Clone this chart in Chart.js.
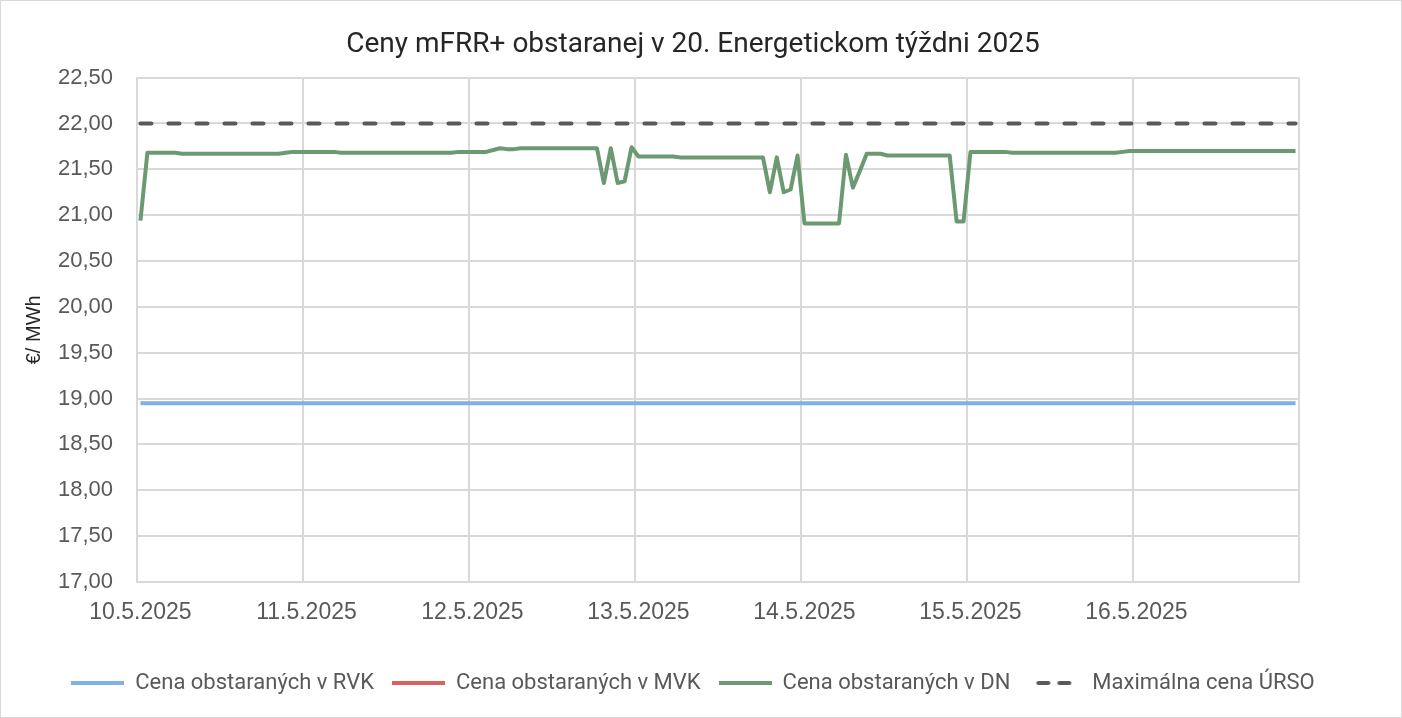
<!DOCTYPE html>
<html>
<head>
<meta charset="utf-8">
<script src="https://cdn.jsdelivr.net/npm/chart.js"></script>
<style>
  body { margin: 0; background: #fff; }
  .box { width: 1402px; height: 718px; box-sizing: border-box; border: 1px solid #d9d9d9; }
  canvas { display: block; }
</style>
</head>
<body>
<div class="box"><canvas id="chart" width="1400" height="716"></canvas></div>
<script>
// dni v tyzdni (popisy osi x), hodinove kategorie
const dni = ['10.5.2025', '11.5.2025', '12.5.2025', '13.5.2025', '14.5.2025', '15.5.2025', '16.5.2025'];
const hodiny = dni.flatMap(d => Array.from({ length: 24 }, (_, h) => d + ' ' + h + ':00'));

// ceny v DN po hodinach (odcitane z grafu)
const cenaDN = [
    // 10.5.
    20.94, 21.68, 21.68, 21.68, 21.68, 21.68, 21.67, 21.67, 21.67, 21.67, 21.67, 21.67,
    21.67, 21.67, 21.67, 21.67, 21.67, 21.67, 21.67, 21.67, 21.67, 21.68, 21.69, 21.69,
    // 11.5.
    21.69, 21.69, 21.69, 21.69, 21.69, 21.68, 21.68, 21.68, 21.68, 21.68, 21.68, 21.68,
    21.68, 21.68, 21.68, 21.68, 21.68, 21.68, 21.68, 21.68, 21.68, 21.68, 21.69, 21.69,
    // 12.5.
    21.69, 21.69, 21.69, 21.71, 21.73, 21.72, 21.72, 21.73, 21.73, 21.73, 21.73, 21.73,
    21.73, 21.73, 21.73, 21.73, 21.73, 21.73, 21.73, 21.35, 21.73, 21.35, 21.37, 21.74,
    // 13.5.
    21.64, 21.64, 21.64, 21.64, 21.64, 21.64, 21.63, 21.63, 21.63, 21.63, 21.63, 21.63,
    21.63, 21.63, 21.63, 21.63, 21.63, 21.63, 21.63, 21.25, 21.63, 21.25, 21.28, 21.65,
    // 14.5.
    20.91, 20.91, 20.91, 20.91, 20.91, 20.91, 21.66, 21.30, 21.48, 21.67, 21.67, 21.67,
    21.65, 21.65, 21.65, 21.65, 21.65, 21.65, 21.65, 21.65, 21.65, 21.65, 20.93, 20.93,
    // 15.5.
    21.69, 21.69, 21.69, 21.69, 21.69, 21.69, 21.68, 21.68, 21.68, 21.68, 21.68, 21.68,
    21.68, 21.68, 21.68, 21.68, 21.68, 21.68, 21.68, 21.68, 21.68, 21.68, 21.69, 21.70,
    // 16.5.
    21.70, 21.70, 21.70, 21.70, 21.70, 21.70, 21.70, 21.70, 21.70, 21.70, 21.70, 21.70,
    21.70, 21.70, 21.70, 21.70, 21.70, 21.70, 21.70, 21.70, 21.70, 21.70, 21.70, 21.70
];
const cenaRVK = hodiny.map(() => 18.95);   // konstantna cena v RVK
const cenaMVK = hodiny.map(() => null);    // v MVK nic obstarane
const maxCena = hodiny.map(() => 22.00);   // maximalna cena URSO

const yMin = 17, yMax = 22.5, yKrok = 0.5;

const tickFamily = "'Liberation Sans', Arial, sans-serif";
const textFont = "Roboto, 'Noto Sans', sans-serif";

// znacky do legendy (ciara, resp. preruseny ciara)
function znacka(farba, dash) {
    const c = document.createElement('canvas');
    c.width = 53;
    c.height = 6;
    const g = c.getContext('2d');
    g.strokeStyle = farba;
    g.lineWidth = 4;
    g.lineCap = dash ? 'round' : 'butt';
    if (dash) g.setLineDash([10, 11]);
    g.beginPath();
    g.moveTo(dash ? 10 : 0, 3);
    g.lineTo(dash ? 50 : 53, 3);
    g.stroke();
    return c;
}

new Chart(document.getElementById('chart'), {
    type: 'line',
    data: {
        labels: hodiny,
        datasets: [
            { label: 'Cena obstaraných v RVK', data: cenaRVK, borderColor: '#7fb1e2', backgroundColor: '#7fb1e2', borderWidth: 4,
              pointStyle: znacka('#7fb1e2') },
            { label: 'Cena obstaraných v MVK', data: cenaMVK, borderColor: '#d8625e', backgroundColor: '#d8625e', borderWidth: 4,
              pointStyle: znacka('#d8625e') },
            { label: 'Cena obstaraných v DN', data: cenaDN, borderColor: '#6b9a72', backgroundColor: '#6b9a72', borderWidth: 4,
              pointStyle: znacka('#6b9a72') },
            { label: 'Maximálna cena ÚRSO', data: maxCena, borderColor: '#595959', backgroundColor: '#595959', borderWidth: 4,
              borderDash: [11, 17], borderCapStyle: 'round', pointStyle: znacka('#595959', true) }
        ]
    },
    options: {
        responsive: false,
        animation: false,
        layout: { padding: { top: 0, left: 0, right: 16, bottom: 13 } },
        elements: {
            point: { radius: 0, hoverRadius: 0 },
            line: { tension: 0, borderJoinStyle: 'round' }
        },
        plugins: {
            title: {
                display: true,
                text: 'Ceny mFRR+ obstaranej v 20. Energetickom týždni 2025',
                color: '#262626',
                font: { family: textFont, size: 28, weight: 'normal' },
                padding: { top: 27, bottom: 16 }
            },
            legend: {
                position: 'bottom',
                labels: {
                    usePointStyle: true,
                    pointStyleWidth: 53,
                    color: '#595959',
                    font: { family: textFont, size: 22 },
                    padding: 18
                }
            },
            tooltip: { enabled: false }
        },
        scales: {
            x: {
                offset: true,
                grid: {
                    offset: true,
                    drawTicks: false,
                    lineWidth: 2,
                    color: ctx => (ctx.index === undefined || ctx.index % 24 === 0) ? '#d9d9d9' : 'rgba(0,0,0,0)'
                },
                border: { color: '#d9d9d9', width: 2 },
                ticks: {
                    autoSkip: false,
                    maxRotation: 0,
                    padding: 17,
                    color: '#595959',
                    font: { family: tickFamily, size: 23 },
                    callback: (v, i) => i % 24 === 0 ? dni[i / 24] : ''
                },
                afterFit: s => { s.height = 72; }
            },
            y: {
                min: yMin,
                max: yMax,
                grid: { drawTicks: false, lineWidth: 2, color: '#d9d9d9' },
                border: { color: '#d9d9d9', width: 2 },
                ticks: {
                    stepSize: yKrok,
                    padding: 24,
                    color: '#595959',
                    font: { family: tickFamily, size: 22 },
                    callback: v => v.toFixed(2).replace('.', ',')
                },
                title: {
                    display: true,
                    text: '€/ MWh',
                    color: '#262626',
                    font: { family: tickFamily, size: 20 },
                    padding: { top: 21, bottom: 4 }
                },
                afterFit: s => { s.width = 136; }
            },
            // prazdny priestor vpravo od grafu
            vpravo: {
                position: 'right',
                grid: { display: false },
                border: { display: false },
                ticks: { display: false },
                afterFit: s => { s.width = 86; }
            }
        }
    }
});
</script>
</body>
</html>
